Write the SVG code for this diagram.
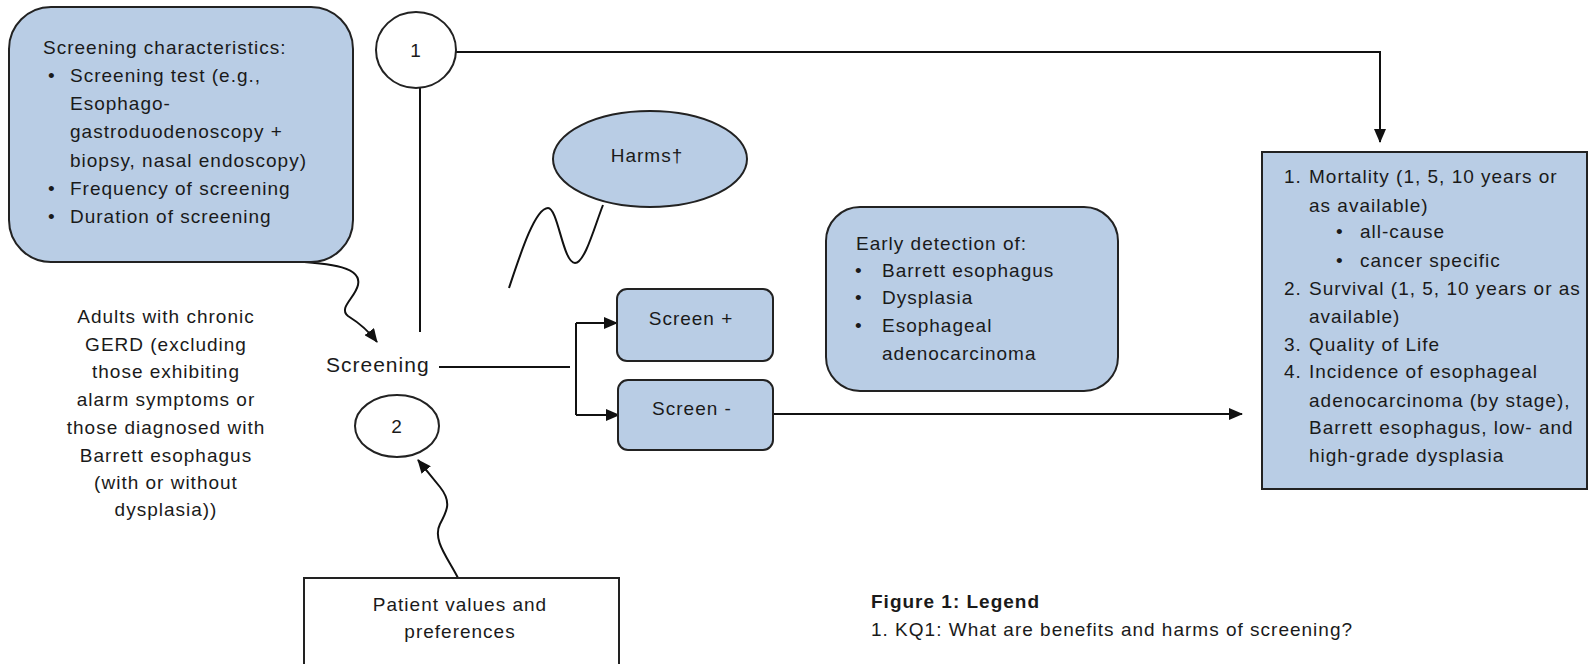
<svg xmlns="http://www.w3.org/2000/svg" width="1589" height="664" viewBox="0 0 1589 664">
<defs>
<style>
text{font-family:"Liberation Sans",Arial,sans-serif;font-size:19px;fill:#1a1a1a;letter-spacing:1px}
.c{text-anchor:middle}
.box{fill:#b9cde5;stroke:#222;stroke-width:2}
.wbox{fill:#fff;stroke:#222;stroke-width:2}
.ln{fill:none;stroke:#111;stroke-width:2}
.b{font-weight:bold}
</style>
<marker id="ah" markerWidth="14" markerHeight="12" refX="13" refY="6" orient="auto" markerUnits="userSpaceOnUse">
<path d="M0,0 L14,6 L0,12 z" fill="#111"/>
</marker>
</defs>
<rect width="1589" height="664" fill="#fff"/>

<g id="connectors">
<path class="ln" d="M456,52 L1380,52 L1380,142" marker-end="url(#ah)"/>
<path class="ln" d="M420,88 L420,332"/>
<path class="ln" d="M286,261 C335,263 362,268 358,285 C355,298 338,308 348,316 C356,321 368,330 377,342" marker-end="url(#ah)"/>
<path class="ln" d="M458,578 C448,558 432,540 440,524 C447,511 452,502 440,487 L418,460" marker-end="url(#ah)"/>
<path class="ln" d="M603,205 C595,225 585,263 575,263 C563,263 558,208 548,208 C535,208 520,255 509,288"/>
<path class="ln" d="M439,367 L570,367"/>
<path class="ln" d="M576,323 L576,415"/>
<path class="ln" d="M576,323 L617,323" marker-end="url(#ah)"/>
<path class="ln" d="M576,415 L619,415" marker-end="url(#ah)"/>
<path class="ln" d="M773,414 L1242,414" marker-end="url(#ah)"/>
</g>

<g id="screening-characteristics">
<rect class="box" x="9" y="7" width="344" height="255" rx="42" ry="42"/>
<text x="43" y="54">Screening characteristics:</text>
<text x="48" y="82">•</text><text x="70" y="82">Screening test (e.g.,</text>
<text x="70" y="110">Esophago-</text>
<text x="70" y="138">gastroduodenoscopy +</text>
<text x="70" y="167">biopsy, nasal endoscopy)</text>
<text x="48" y="195">•</text><text x="70" y="195">Frequency of screening</text>
<text x="48" y="223">•</text><text x="70" y="223">Duration of screening</text>
</g>

<g id="kq1">
<ellipse cx="416" cy="50" rx="40" ry="38" fill="#fff" stroke="#222" stroke-width="2"/>
<text class="c" x="416" y="57">1</text>
</g>

<g id="kq2">
<ellipse cx="397" cy="426" rx="42" ry="31" fill="#fff" stroke="#222" stroke-width="2"/>
<text class="c" x="397" y="433">2</text>
</g>

<g id="population">
<text class="c" x="166" y="323">Adults with chronic</text>
<text class="c" x="166" y="351">GERD (excluding</text>
<text class="c" x="166" y="378">those exhibiting</text>
<text class="c" x="166" y="406">alarm symptoms or</text>
<text class="c" x="166" y="434">those diagnosed with</text>
<text class="c" x="166" y="462">Barrett esophagus</text>
<text class="c" x="166" y="489">(with or without</text>
<text class="c" x="166" y="516">dysplasia))</text>
</g>

<g id="screening">
<text x="326" y="372" style="font-size:21px">Screening</text>
</g>

<g id="harms">
<ellipse class="box" cx="650" cy="159" rx="97" ry="48"/>
<text class="c" x="647" y="162">Harms†</text>
</g>

<g id="screen-pos">
<rect class="box" x="617" y="289" width="156" height="72" rx="10" ry="10"/>
<text class="c" x="691" y="325">Screen +</text>
</g>

<g id="screen-neg">
<rect class="box" x="618" y="380" width="155" height="70" rx="10" ry="10"/>
<text class="c" x="692" y="415">Screen -</text>
</g>

<g id="early-detection">
<rect class="box" x="826" y="207" width="292" height="184" rx="34" ry="34"/>
<text x="856" y="250">Early detection of:</text>
<text x="855" y="277">•</text><text x="882" y="277">Barrett esophagus</text>
<text x="855" y="304">•</text><text x="882" y="304">Dysplasia</text>
<text x="855" y="332">•</text><text x="882" y="332">Esophageal</text>
<text x="882" y="360">adenocarcinoma</text>
</g>

<g id="outcomes">
<rect class="box" x="1262" y="152" width="325" height="337"/>
<text x="1284" y="183">1.</text><text x="1309" y="183">Mortality (1, 5, 10 years or</text>
<text x="1309" y="212">as available)</text>
<text x="1336" y="238">•</text><text x="1360" y="238">all-cause</text>
<text x="1336" y="267">•</text><text x="1360" y="267">cancer specific</text>
<text x="1284" y="295">2.</text><text x="1309" y="295">Survival (1, 5, 10 years or as</text>
<text x="1309" y="323">available)</text>
<text x="1284" y="351">3.</text><text x="1309" y="351">Quality of Life</text>
<text x="1284" y="378">4.</text><text x="1309" y="378">Incidence of esophageal</text>
<text x="1309" y="407">adenocarcinoma (by stage),</text>
<text x="1309" y="434">Barrett esophagus, low- and</text>
<text x="1309" y="462">high-grade dysplasia</text>
</g>

<g id="patient-values">
<rect class="wbox" x="304" y="578" width="315" height="95"/>
<text class="c" x="460" y="611">Patient values and</text>
<text class="c" x="460" y="638">preferences</text>
</g>

<g id="legend">
<text class="b" x="871" y="608">Figure 1: Legend</text>
<text x="871" y="636">1. KQ1: What are benefits and harms of screening?</text>
</g>
</svg>
